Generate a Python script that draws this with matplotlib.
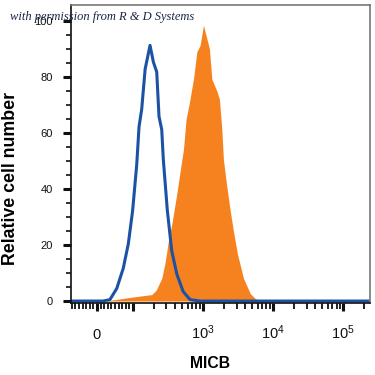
import matplotlib
matplotlib.use("Agg")
import matplotlib.pyplot as plt
import numpy as np

plt.rcParams['font.family'] = ['Liberation Sans', 'DejaVu Sans']
plt.rcParams['mathtext.fontset'] = 'custom'
plt.rcParams['mathtext.rm'] = 'Liberation Sans'
plt.rcParams['mathtext.it'] = 'Liberation Sans'

# isotype control (blue outline)
blue_x = [-72, 0, 17, 36, 55, 73, 87, 99, 113, 122, 133, 149, 175, 195, 218,
          235, 257, 271, 309, 357, 422, 519, 653, 906, 240000]
blue_y = [0, 0, 0, 0.5, 4.5, 11.7, 20.4, 32.3, 48.6, 62.3, 68.4, 82.8, 91.3,
          85.4, 81.8, 65.9, 61.2, 50.4, 32.3, 17.9, 9.6, 3.4, 0.5, 0, 0]

# MICB stained (orange filled)
orange_x = [22, 50, 92, 149, 185, 213, 257, 286, 320, 361, 422, 497, 524, 571,
            638, 728, 813, 906, 1012, 1130, 1230, 1333, 1571, 1710, 1850, 1950,
            2168, 2432, 2729, 3090, 3767, 4700, 5530, 6530]
orange_y = [0, 0.5, 1.3, 2.0, 2.3, 3.8, 8.1, 13.5, 21.5, 28, 38.4, 50.4, 54,
            64.8, 70.9, 79.2, 88.9, 91.3, 98.5, 93.7, 90.1, 79.2, 75, 72, 61.2,
            50.4, 41.3, 32.3, 24.4, 16.8, 8.1, 2.7, 0.9, 0]

x_ticks = [0, 100, 1000, 10000, 100000]
x_ticklabels = ['0', '', '$10^{3}$', '$10^{4}$', '$10^{5}$']
y_ticks = [0, 20, 40, 60, 80, 100]

fig = plt.figure(figsize=(3.75, 3.75), dpi=100)
ax = fig.add_axes([71/375, 1 - 303/375, 299/375, 298/375])

ax.fill_between(orange_x, 0, orange_y, color='#f5821f', linewidth=0)
ax.plot(blue_x, blue_y, color='#1b52a3', linewidth=2.2, solid_joinstyle='round')

ax.set_xscale('symlog', linthresh=100, linscale=0.4626)
ax.set_xlim(-72, 240000)
ax.set_ylim(-0.7, 105.7)

# x ticks
ax.set_xticks(x_ticks)
ax.set_xticklabels(x_ticklabels)
minor_x = [v for v in range(-70, 100, 10) if v != 0]
for dec in [100, 1000, 10000, 100000]:
    minor_x += [m * dec for m in range(2, 10) if m * dec < 240000]
ax.set_xticks(minor_x, minor=True)
ax.tick_params(axis='x', which='major', direction='out', length=6, width=2.2,
               pad=20, labelsize=10.5, colors='#111111')
ax.tick_params(axis='x', which='minor', direction='out', length=4, width=1.3,
               colors='#111111')
for lbl in ax.get_xticklabels():
    lbl.set_verticalalignment('baseline')

# y ticks
ax.set_yticks(y_ticks)
ax.set_yticks(np.arange(5, 105, 5), minor=True)
ax.tick_params(axis='y', which='major', direction='out', length=6, width=2.2,
               pad=7, labelsize=8, colors='#111111')
ax.tick_params(axis='y', which='minor', direction='out', length=3.5, width=1.2,
               colors='#111111')

for side in ['top', 'right']:
    ax.spines[side].set_color('#777777')
    ax.spines[side].set_linewidth(1.2)
for side in ['left', 'bottom']:
    ax.spines[side].set_color('#111111')
    ax.spines[side].set_linewidth(1.2)

fig.text(11/375, 1 - 178/375, 'Relative cell number', rotation=90,
         ha='center', va='center', fontsize=12.8, fontweight='bold')
fig.text(210/375, 1 - 363/375, 'MICB', ha='center', va='center',
         fontsize=11.3, fontweight='bold')
fig.text(10/375, 1 - 17/375, 'with permission from R & D Systems',
         ha='left', va='center', fontsize=9, style='italic',
         family='Liberation Serif', color='#1c2545')

fig.savefig('out.png', dpi=100)
